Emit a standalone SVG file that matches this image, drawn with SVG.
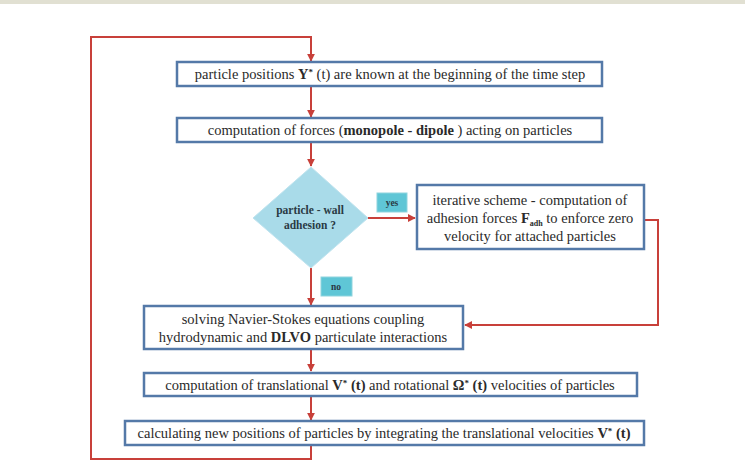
<svg xmlns="http://www.w3.org/2000/svg" width="745" height="462" viewBox="0 0 745 462">
<style>
.box{fill:#ffffff;stroke:#5479a8;stroke-width:2.5}
.t{font-family:"Liberation Serif","Times New Roman",serif;font-size:14.5px;fill:#2a2a2a;text-anchor:middle}
.tb{font-weight:bold}
.ln{fill:none;stroke:#c8403a;stroke-width:2}
.lab{fill:#5fc6d6;stroke:#8fd4de;stroke-width:1}
.dt{font-family:"Liberation Serif","Times New Roman",serif;font-size:11.5px;font-weight:bold;fill:#2a3a44;text-anchor:middle}
.lt{font-family:"Liberation Serif","Times New Roman",serif;font-size:9.5px;font-weight:bold;fill:#2a3a44;text-anchor:middle}
</style>
<defs>
<marker id="ah" viewBox="0 0 10 10" refX="9" refY="5" markerWidth="4" markerHeight="4" orient="auto">
<path d="M0,0 L10,5 L0,10 z" fill="#c8403a"/>
</marker>
</defs>
<rect x="0" y="0" width="745" height="4" fill="#e1e0d2"/>
<g id="connectors">
<polyline class="ln" points="311,445 311,459 91,459 91,37 311,37 311,61" marker-end="url(#ah)"/>
<line class="ln" x1="311" y1="87" x2="311" y2="117" marker-end="url(#ah)"/>
<line class="ln" x1="311" y1="143" x2="311" y2="166" marker-end="url(#ah)"/>
<line class="ln" x1="367" y1="218" x2="415" y2="218" marker-end="url(#ah)"/>
<polyline class="ln" points="645,220 658,220 658,325 465,325" marker-end="url(#ah)"/>
<line class="ln" x1="311" y1="268" x2="311" y2="305" marker-end="url(#ah)"/>
<line class="ln" x1="311" y1="350" x2="311" y2="371" marker-end="url(#ah)"/>
<line class="ln" x1="311" y1="397" x2="311" y2="420" marker-end="url(#ah)"/>
</g>
<g id="n1">
<rect class="box" x="177" y="62" width="425" height="24"/>
<text class="t" x="390" y="79">particle positions <tspan class="tb">Y</tspan><tspan class="tb" font-size="9" dy="-4">*</tspan><tspan dy="4"> (t) are known at the beginning of the time step</tspan></text>
</g>
<g id="n2">
<rect class="box" x="177" y="118" width="425" height="24"/>
<text class="t" x="390" y="135">computation of forces (<tspan class="tb">monopole - dipole</tspan> ) acting on particles</text>
</g>
<g id="n3">
<polygon points="311,167 368,218 311,268 253,218" fill="#a9dbe9" stroke="#bfe3ee" stroke-width="1"/>
<text class="dt" x="310" y="214">particle - wall</text>
<text class="dt" x="310" y="229">adhesion ?</text>
</g>
<g id="lyes">
<rect class="lab" x="377" y="193" width="30" height="19"/>
<text class="lt" x="392" y="206">yes</text>
</g>
<g id="n4">
<rect class="box" x="417" y="185" width="227" height="64"/>
<text class="t" x="530" y="205">iterative scheme - computation of</text>
<text class="t" x="530" y="223">adhesion forces <tspan class="tb">F</tspan><tspan class="tb" font-size="8" dy="3">adh</tspan><tspan dy="-3"> to enforce zero</tspan></text>
<text class="t" x="530" y="241">velocity for attached particles</text>
</g>
<g id="lno">
<rect class="lab" x="321" y="277" width="31" height="19"/>
<text class="lt" x="336" y="290">no</text>
</g>
<g id="n5">
<rect class="box" x="144" y="306" width="319" height="43"/>
<text class="t" x="303" y="324">solving Navier-Stokes equations coupling</text>
<text class="t" x="303" y="342">hydrodynamic and <tspan class="tb">DLVO</tspan> particulate interactions</text>
</g>
<g id="n6">
<rect class="box" x="144" y="373" width="493" height="23"/>
<text class="t" x="390" y="389.5">computation of  translational <tspan class="tb">V</tspan><tspan class="tb" font-size="9" dy="-4">*</tspan><tspan class="tb" dy="4"> (t)</tspan> and rotational <tspan class="tb">Ω</tspan><tspan class="tb" font-size="9" dy="-4">*</tspan><tspan class="tb" dy="4"> (t)</tspan>  velocities of particles</text>
</g>
<g id="n7">
<rect class="box" x="125" y="421" width="519" height="24"/>
<text class="t" x="384" y="438">calculating new positions of particles by integrating the translational velocities <tspan class="tb">V</tspan><tspan class="tb" font-size="9" dy="-4">*</tspan><tspan class="tb" dy="4"> (t)</tspan></text>
</g>
</svg>
